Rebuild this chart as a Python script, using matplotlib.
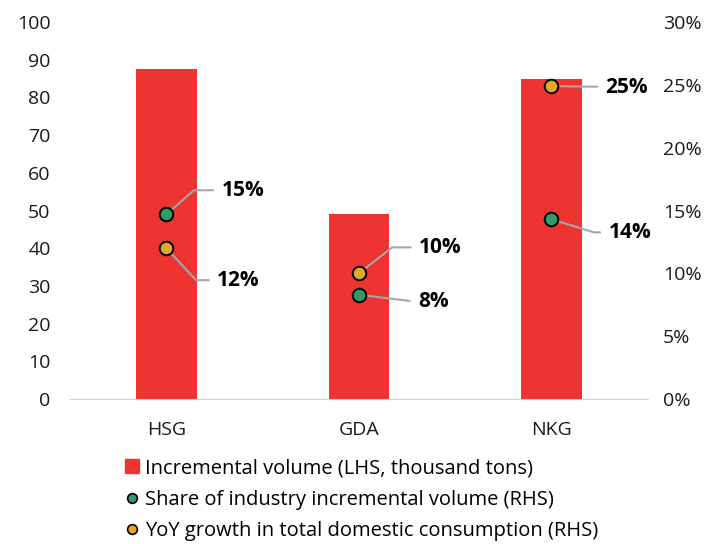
import matplotlib.pyplot as plt
from matplotlib.lines import Line2D
from matplotlib.patches import Patch

plt.rcParams['font.family'] = ['Open Sans', 'DejaVu Sans']

companies = ["HSG", "GDA", "NKG"]
volume = [87.5, 49.2, 85.0]          # thousand tons, LHS
share = [14.7, 8.3, 14.3]            # % RHS
yoy = [12.0, 10.0, 24.9]             # % RHS
share_lbl = ["15%", "8%", "14%"]
yoy_lbl = ["12%", "10%", "25%"]

RED = "#EE3431"
GREEN = "#2E9B68"
ORANGE = "#E2A82A"
GREY = "#A6A6A6"

fig = plt.figure(figsize=(7.24, 5.44), dpi=100)
ax = fig.add_axes([0.0967, 0.2665, 0.798, 0.693])
ax2 = ax.twinx()

x = range(len(companies))
ax.bar(x, volume, width=0.315, color=RED, zorder=1)
ax.set_xlim(-0.5, 2.5)
ax.set_ylim(0, 100)
ax.set_yticks(range(0, 101, 10))
ax.set_xticks(list(x))
ax.set_xticklabels(companies)

ax2.set_ylim(0, 30)
ax2.set_yticks(range(0, 31, 5))
ax2.set_yticklabels([f"{v}%" for v in range(0, 31, 5)])

for a in (ax, ax2):
    for s in a.spines.values():
        s.set_visible(False)
    a.tick_params(length=0, labelsize=14, colors="#1a1a1a")
ax.spines['bottom'].set_visible(True)
ax.spines['bottom'].set_color("#D0D0D0")
ax.tick_params(axis='x', pad=16)
ax.tick_params(axis='y', pad=14)
ax2.tick_params(axis='y', pad=11)

ax2.scatter(x, share, s=95, color=GREEN, edgecolor="black", linewidth=1.4, zorder=3)
ax2.scatter(x, yoy, s=95, color=ORANGE, edgecolor="black", linewidth=1.4, zorder=3)

# label offsets (points) and leader angles at the dot
share_off = [((39.6, 17.3), 41), ((42.5, -5), -7), ((41, -9.4), -17)]
yoy_off = [((36.7, -23), -47), ((43.2, 18.7), 38), ((38.9, -0.7), None)]

def label(xi, val, txt, off, ang):
    if ang is None:
        cs = "arc3,rad=0"
    else:
        cs = f"angle,angleA=0,angleB={ang},rad=0"
    ax2.annotate(txt, xy=(xi, val), xytext=off, textcoords="offset points",
                 ha="left", va="center", fontsize=15, fontweight="bold",
                 arrowprops=dict(arrowstyle="-", color=GREY, lw=1.5,
                                 shrinkA=4, shrinkB=0, connectionstyle=cs),
                 zorder=2)

for i in x:
    label(i, share[i], share_lbl[i], *share_off[i])
    label(i, yoy[i], yoy_lbl[i], *yoy_off[i])

handles = [
    Patch(color=RED),
    Line2D([], [], ls="", marker="o", ms=7, mfc=GREEN, mec="black", mew=1.2),
    Line2D([], [], ls="", marker="o", ms=7, mfc=ORANGE, mec="black", mew=1.2),
]
labels = ["Incremental volume (LHS, thousand tons)",
          "Share of industry incremental volume (RHS)",
          "YoY growth in total domestic consumption (RHS)"]
fig.legend(handles, labels, loc="upper left", bbox_to_anchor=(0.162, 0.172),
           frameon=False, fontsize=14.5, handlelength=0.7, handleheight=0.7,
           handletextpad=0.3, labelspacing=0.55, borderaxespad=0)

fig.savefig("out.png", dpi=100)
